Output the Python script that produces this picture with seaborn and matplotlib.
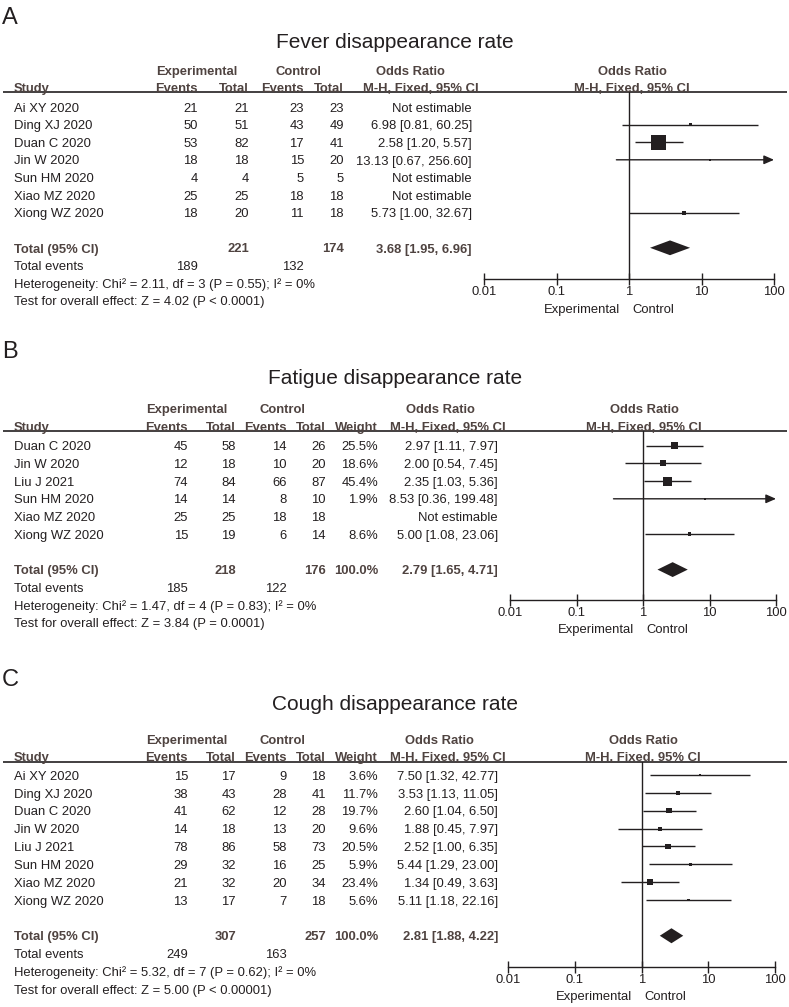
import numpy as np
import matplotlib
matplotlib.use("Agg")
import matplotlib.pyplot as plt
from matplotlib.ticker import NullLocator
import seaborn as sns

nan = np.nan

# A - fever
studies_a = ["Ai XY 2020", "Ding XJ 2020", "Duan C 2020", "Jin W 2020", "Sun HM 2020", "Xiao MZ 2020", "Xiong WZ 2020"]
ev_e_a = [21, 50, 53, 18, 4, 25, 18]
tot_e_a = [21, 51, 82, 18, 4, 25, 20]
ev_c_a = [23, 43, 17, 15, 5, 18, 11]
tot_c_a = [23, 49, 41, 20, 5, 18, 18]
or_a = [nan, 6.98, 2.58, 13.13, nan, nan, 5.73]
lo_a = [nan, 0.81, 1.20, 0.67, nan, nan, 1.00]
hi_a = [nan, 60.25, 5.57, 256.60, nan, nan, 32.67]
box_a = [nan, 4, 82, 2, nan, nan, 6]   # box weights estimated from square sizes
total_a = [221, 174]
events_a = [189, 132]
summary_a = [3.68, 1.95, 6.96]
het_a = "Heterogeneity: Chi² = 2.11, df = 3 (P = 0.55); I² = 0%"
test_a = "Test for overall effect: Z = 4.02 (P < 0.0001)"

# B - fatigue
studies_b = ["Duan C 2020", "Jin W 2020", "Liu J 2021", "Sun HM 2020", "Xiao MZ 2020", "Xiong WZ 2020"]
ev_e_b = [45, 12, 74, 14, 25, 15]
tot_e_b = [58, 18, 84, 14, 25, 19]
ev_c_b = [14, 10, 66, 8, 18, 6]
tot_c_b = [26, 20, 87, 10, 18, 14]
weight_b = [25.5, 18.6, 45.4, 1.9, nan, 8.6]
or_b = [2.97, 2.00, 2.35, 8.53, nan, 5.00]
lo_b = [1.11, 0.54, 1.03, 0.36, nan, 1.08]
hi_b = [7.97, 7.45, 5.36, 199.48, nan, 23.06]
total_b = [218, 176]
events_b = [185, 122]
summary_b = [2.79, 1.65, 4.71]
het_b = "Heterogeneity: Chi² = 1.47, df = 4 (P = 0.83); I² = 0%"
test_b = "Test for overall effect: Z = 3.84 (P = 0.0001)"

# C - cough
studies_c = ["Ai XY 2020", "Ding XJ 2020", "Duan C 2020", "Jin W 2020", "Liu J 2021", "Sun HM 2020", "Xiao MZ 2020", "Xiong WZ 2020"]
ev_e_c = [15, 38, 41, 14, 78, 29, 21, 13]
tot_e_c = [17, 43, 62, 18, 86, 32, 32, 17]
ev_c_c = [9, 28, 12, 13, 58, 16, 20, 7]
tot_c_c = [18, 41, 28, 20, 73, 25, 34, 18]
weight_c = [3.6, 11.7, 19.7, 9.6, 20.5, 5.9, 23.4, 5.6]
or_c = [7.50, 3.53, 2.60, 1.88, 2.52, 5.44, 1.34, 5.11]
lo_c = [1.32, 1.13, 1.04, 0.45, 1.00, 1.29, 0.49, 1.18]
hi_c = [42.77, 11.05, 6.50, 7.97, 6.35, 23.00, 3.63, 22.16]
total_c = [307, 257]
events_c = [249, 163]
summary_c = [2.81, 1.88, 4.22]
het_c = "Heterogeneity: Chi² = 5.32, df = 7 (P = 0.62); I² = 0%"
test_c = "Test for overall effect: Z = 5.00 (P < 0.00001)"

sns.set_theme(style="white")
plt.rcParams['font.family'] = ['Liberation Sans', 'DejaVu Sans']

W, H = 789, 1007
PT = 0.72  # points per pixel at 100 dpi
HEAD = '#4f4340'
INK = '#231f20'
FS = 9.4

fig = plt.figure(figsize=(W / 100, H / 100), dpi=100)
bg = fig.add_axes([0, 0, 1, 1])
bg.set_xlim(0, W)
bg.set_ylim(H, 0)
bg.axis('off')


def panel(letter, title, studies, ev_e, tot_e, ev_c, tot_c, weight, ors, los, his, box,
          total, events, summary, het, test, lay):
    n = len(studies)
    row0, dy = lay['row0'], lay['dy']
    c = lay['cols']

    def ry(i):
        return row0 + i * dy + 4.7

    bg.text(2, lay['letter'] + 8.5, letter, fontsize=17, color=INK)
    bg.text(395, lay['title'] + 7.5, title, fontsize=15, ha='center', color=INK)

    hk = dict(fontsize=FS, fontweight='bold', color=HEAD)
    h1, h2 = lay['h1'] + 4.7, lay['h2'] + 4.7
    bg.text(lay['exp_h'], h1, "Experimental", ha='center', **hk)
    bg.text(lay['ctl_h'], h1, "Control", ha='center', **hk)
    bg.text(lay['or_h1'], h1, "Odds Ratio", ha='center', **hk)
    bg.text(lay['fp_h'], h1, "Odds Ratio", ha='center', **hk)
    bg.text(c['study'], h2, "Study", ha='left', **hk)
    bg.text(c['ev_e'], h2, "Events", ha='right', **hk)
    bg.text(c['tot_e'], h2, "Total", ha='right', **hk)
    bg.text(c['ev_c'], h2, "Events", ha='right', **hk)
    bg.text(c['tot_c'], h2, "Total", ha='right', **hk)
    if weight is not None:
        bg.text(c['weight'], h2, "Weight", ha='right', **hk)
    bg.text(lay['or_h2'], h2, "M-H, Fixed, 95% CI", ha='center', **hk)
    bg.text(lay['fp_h'], h2, "M-H, Fixed, 95% CI", ha='center', **hk)
    bg.hlines(lay['rule'], 3, 787, color=INK, lw=1.2)

    tk = dict(fontsize=FS, color=INK)
    for i in range(n):
        y = ry(i)
        bg.text(c['study'], y, studies[i], ha='left', **tk)
        bg.text(c['ev_e'], y, str(ev_e[i]), ha='right', **tk)
        bg.text(c['tot_e'], y, str(tot_e[i]), ha='right', **tk)
        bg.text(c['ev_c'], y, str(ev_c[i]), ha='right', **tk)
        bg.text(c['tot_c'], y, str(tot_c[i]), ha='right', **tk)
        if weight is not None and not np.isnan(weight[i]):
            bg.text(c['weight'], y, f"{weight[i]:.1f}%", ha='right', **tk)
        if np.isnan(ors[i]):
            s = "Not estimable"
        else:
            s = f"{ors[i]:.2f} [{los[i]:.2f}, {his[i]:.2f}]"
        bg.text(c['or'], y, s, ha='right', **tk)

    t = n + 1
    bg.text(c['study'], ry(t), "Total (95% CI)", ha='left', **hk)
    bg.text(c['tot_e'], ry(t), str(total[0]), ha='right', **hk)
    bg.text(c['tot_c'], ry(t), str(total[1]), ha='right', **hk)
    if weight is not None:
        bg.text(c['weight'], ry(t), "100.0%", ha='right', **hk)
    bg.text(c['or'], ry(t), f"{summary[0]:.2f} [{summary[1]:.2f}, {summary[2]:.2f}]", ha='right', **hk)
    bg.text(c['study'], ry(t + 1), "Total events", ha='left', **tk)
    bg.text(c['ev_e'], ry(t + 1), str(events[0]), ha='right', **tk)
    bg.text(c['ev_c'], ry(t + 1), str(events[1]), ha='right', **tk)
    bg.text(c['study'], ry(t + 2), het, ha='left', **tk)
    bg.text(c['study'], ry(t + 3), test, ha='left', **tk)

    # forest
    x0, x1, top, bot = lay['x0'], lay['x1'], lay['rule'], lay['axis']
    fa = fig.add_axes([x0 / W, 1 - bot / H, (x1 - x0) / W, (bot - top) / H])
    fa.patch.set_visible(False)
    fa.set_xscale('log')
    fa.set_xlim(0.01, 100)
    fa.set_ylim((bot - row0) / dy, (top - row0) / dy)

    ors, los, his = np.array(ors), np.array(los), np.array(his)
    rows = np.arange(n)
    m = ~np.isnan(ors)
    capped = his > 100
    fa.hlines(rows[m & ~capped], los[m & ~capped], his[m & ~capped], color=INK, lw=1)
    for r in rows[m & capped]:
        fa.annotate("", xy=(100, r), xytext=(los[r], r),
                    arrowprops=dict(arrowstyle='-|>,head_length=0.5,head_width=0.22',
                                    color=INK, lw=1, shrinkA=0, shrinkB=0))
    side = lay['k'] * np.sqrt(np.array(box)[m]) * PT
    sns.scatterplot(x=ors[m], y=rows[m], marker='s', s=side ** 2, color=INK,
                    linewidth=0, legend=False, ax=fa, zorder=3)
    fa.axvline(1, color=INK, lw=1)
    est, lo, hi = summary
    fa.fill([lo, est, hi, est], [t, t - 0.42, t, t + 0.42], color=INK, lw=0)

    for sp in ['top', 'left', 'right']:
        fa.spines[sp].set_visible(False)
    fa.spines['bottom'].set_color(INK)
    fa.spines['bottom'].set_linewidth(1)
    fa.set_xticks([0.01, 0.1, 1, 10, 100])
    fa.set_xticklabels(['0.01', '0.1', '1', '10', '100'])
    fa.xaxis.set_minor_locator(NullLocator())
    fa.set_yticks([])
    fa.tick_params(axis='x', bottom=True, direction='inout', length=8, width=1,
                   color=INK, labelsize=FS, labelcolor=INK, pad=1)
    off = -(lay['lab'] + 4.7) * PT
    fa.annotate("Experimental", xy=(1, 0), xycoords=('data', 'axes fraction'),
                xytext=(-9 * PT, off), textcoords='offset points', ha='right',
                va='baseline', fontsize=FS, color=INK)
    fa.annotate("Control", xy=(1, 0), xycoords=('data', 'axes fraction'),
                xytext=(3 * PT, off), textcoords='offset points', ha='left',
                va='baseline', fontsize=FS, color=INK)


cols_a = dict(study=14, ev_e=198, tot_e=249, ev_c=304, tot_c=344, weight=None, or_=472)
cols_a['or'] = cols_a.pop('or_')
cols_bc = dict(study=14, ev_e=188, tot_e=236, ev_c=287, tot_c=326, weight=378)
cols_bc['or'] = 498

lay_a = dict(letter=15, title=40, h1=70, h2=87, rule=92, row0=107, dy=17.6, axis=279,
             x0=484, x1=774, cols=cols_a, exp_h=197, ctl_h=298, or_h1=410, or_h2=421,
             fp_h=632, k=1.65, lab=29)
lay_b = dict(letter=350, title=377, h1=408, h2=426, rule=431, row0=445.7, dy=17.7, axis=600,
             x0=510, x1=776, cols=cols_bc, exp_h=187, ctl_h=282, or_h1=440, or_h2=448,
             fp_h=644, k=1.35, lab=28)
lay_c = dict(letter=677, title=703, h1=739, h2=756, rule=762, row0=775, dy=17.86, axis=967,
             x0=508, x1=775, cols=cols_bc, exp_h=187, ctl_h=282, or_h1=439, or_h2=448,
             fp_h=643, k=1.25, lab=28)

panel("A", "Fever disappearance rate", studies_a, ev_e_a, tot_e_a, ev_c_a, tot_c_a, None,
      or_a, lo_a, hi_a, box_a, total_a, events_a, summary_a, het_a, test_a, lay_a)
panel("B", "Fatigue disappearance rate", studies_b, ev_e_b, tot_e_b, ev_c_b, tot_c_b, weight_b,
      or_b, lo_b, hi_b, weight_b, total_b, events_b, summary_b, het_b, test_b, lay_b)
panel("C", "Cough disappearance rate", studies_c, ev_e_c, tot_e_c, ev_c_c, tot_c_c, weight_c,
      or_c, lo_c, hi_c, weight_c, total_c, events_c, summary_c, het_c, test_c, lay_c)

fig.savefig("out.png", dpi=100)
